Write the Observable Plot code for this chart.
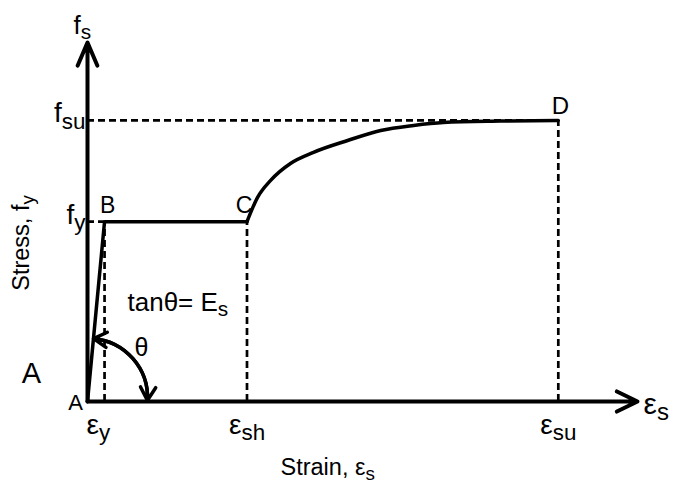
<!DOCTYPE html>
<html><head><meta charset="utf-8">
<script src="https://cdn.jsdelivr.net/npm/d3@7"></script>
<script src="https://cdn.jsdelivr.net/npm/@observablehq/plot@0.6"></script>
<style>body{margin:0;background:#fff} svg{display:block}</style>
</head><body><div id="chart"></div>
<script>
// Key strain values (arbitrary units)
const epsY = 3.1, epsSh = 29, epsSu = 85.6;
// Key stress values (arbitrary units)
const fy = 50.1, fsu = 78.3;
// Axis extents
const axisMaxX = 100, axisMaxY = 100;
// Elastic branch + yield plateau: A -> B -> C
const plateauStrain = [0, epsY, epsSh];
const plateauStress = [0, fy, fy];
// Strain-hardening branch: C -> D
const hardStrain = [29, 30.9, 33.3, 36.9, 41.1, 47.3, 53.3, 59.3, 64.7, 75.1, 85.6];
const hardStress = [50.1, 56.8, 61.6, 66.3, 69.4, 72.7, 75.5, 76.9, 77.7, 78.1, 78.3];
// Theta arc: start (on elastic line), end (on strain axis)
const thetaStrain = [1.1, 10.9];
const thetaStress = [17.5, 0.3];
// Tick labels
const xTickLabels = ["ε_y", "ε_sh", "ε_su"];
const xTickValues = [epsY, epsSh, epsSu];
const yTickLabels = ["f_su", "f_y"];
const yTickValues = [fsu, fy];
// Point labels
const pointLabels = ["A", "B", "C", "D"];
const pointStrain = [0, epsY, epsSh, epsSu];
const pointStress = [0, fy, fy, fsu];
// Axis titles / annotations
const yAxisSymbol = "f_s";
const xAxisSymbol = "ε_s";
const yAxisTitle = "Stress, f_y";
const xAxisTitle = "Strain, ε_s";
const slopeNote = "tanθ= E_s";
const angleNote = "θ";
const bigLabel = "A";

const plateau = plateauStrain.map((x, i) => ({x, y: plateauStress[i]}));
const hard = hardStrain.map((x, i) => ({x, y: hardStress[i]}));
const xt = xTickLabels.map((t, i) => ({t, x: xTickValues[i]}));
const yt = yTickLabels.map((t, i) => ({t, y: yTickValues[i]}));
const pts = pointLabels.map((t, i) => ({t, x: pointStrain[i], y: pointStress[i]}));
const dash = {stroke: "black", strokeWidth: 2.7, strokeDasharray: "7,4"};
const ptLabel = (i, size, dx, dy) => Plot.text([pts[i]], {x: "x", y: "y", text: "t", fontSize: size, lineAnchor: "bottom", textAnchor: "middle", dx, dy, fill: "black"});

const chart = Plot.plot({
  width: 673, height: 486,
  marginLeft: 87, marginRight: 36, marginTop: 42, marginBottom: 85,
  x: {domain: [0, axisMaxX], axis: null},
  y: {domain: [0, axisMaxY], axis: null},
  style: {fontFamily: "'Liberation Sans', Arial, sans-serif", background: "white"},
  marks: [
    // dashed guides
    Plot.ruleY([fsu], {x1: 0, x2: epsSu, ...dash}),
    Plot.ruleX([epsSu], {y1: 0, y2: fsu, ...dash}),
    Plot.ruleX([epsY], {y1: 0, y2: fy, ...dash}),
    Plot.ruleX([epsSh], {y1: 0, y2: fy, ...dash}),
    Plot.ruleY([fy], {x1: 0, x2: epsY, ...dash}),
    // axes with arrowheads
    Plot.arrow([0], {x1: 0, y1: 0, x2: axisMaxX, y2: 0, stroke: "black", strokeWidth: 4, headLength: 8.6, headAngle: 52}),
    Plot.arrow([0], {x1: 0, y1: 0, x2: 0, y2: axisMaxY, stroke: "black", strokeWidth: 4, headLength: 9.4, headAngle: 46}),
    // stress-strain curve
    Plot.line(plateau, {x: "x", y: "y", stroke: "black", strokeWidth: 3.5}),
    Plot.line(hard, {x: "x", y: "y", curve: "monotone-x", stroke: "black", strokeWidth: 3.5}),
    // theta arc (double headed: same arc drawn both ways)
    Plot.arrow([0], {x1: thetaStrain[0], y1: thetaStress[0], x2: thetaStrain[1], y2: thetaStress[1], bend: 44, stroke: "black", strokeWidth: 3.5, headLength: 6.5, headAngle: 60}),
    Plot.arrow([0], {x1: thetaStrain[1], y1: thetaStress[1], x2: thetaStrain[0], y2: thetaStress[0], bend: -44, stroke: "black", strokeWidth: 3.5, headLength: 6.5, headAngle: 60}),
    // tick labels
    Plot.text(xt, {x: "x", y: 0, text: "t", fontSize: 28, textAnchor: "start", lineAnchor: "bottom", dx: -18, dy: 32, fill: "black"}),
    Plot.text(yt, {x: 0, y: "y", text: "t", fontSize: 28, textAnchor: "end", lineAnchor: "bottom", dx: -2, dy: 2, fill: "black"}),
    // point labels
    ptLabel(0, 22, -12, 8), ptLabel(1, 23, 3, -9), ptLabel(2, 23, -3, -9), ptLabel(3, 24, 2, -6),
    // axis symbols and titles
    Plot.text([yAxisSymbol], {frameAnchor: "top-left", text: d => d, fontSize: 26, textAnchor: "start", lineAnchor: "bottom", dx: -14, dy: -9, fill: "black"}),
    Plot.text([xAxisSymbol], {frameAnchor: "bottom-right", text: d => d, fontSize: 30, textAnchor: "start", lineAnchor: "bottom", dx: 6, dy: 12, fill: "black"}),
    Plot.text([yAxisTitle], {frameAnchor: "left", text: d => d, fontSize: 23.5, rotate: -90, textAnchor: "middle", lineAnchor: "bottom", dx: -59, dy: 21, fill: "black"}),
    Plot.text([xAxisTitle], {frameAnchor: "bottom", text: d => d, fontSize: 23.5, textAnchor: "start", lineAnchor: "bottom", dx: -82, dy: 73, fill: "black"}),
    Plot.text([slopeNote], {frameAnchor: "bottom-left", text: d => d, fontSize: 26, textAnchor: "start", lineAnchor: "bottom", dx: 40, dy: -91, fill: "black"}),
    Plot.text([angleNote], {frameAnchor: "bottom-left", text: d => d, fontSize: 25, textAnchor: "middle", lineAnchor: "bottom", dx: 54, dy: -46, fill: "black"}),
    Plot.text([bigLabel], {frameAnchor: "bottom-left", text: d => d, fontSize: 29, textAnchor: "middle", lineAnchor: "bottom", dx: -56, dy: -19, fill: "black"})
  ]
});

// render "_x" as subscripts
chart.querySelectorAll("text").forEach(t => {
  const s = t.textContent;
  const i = s.indexOf("_");
  if (i < 0) return;
  t.textContent = s.slice(0, i);
  const ts = document.createElementNS("http://www.w3.org/2000/svg", "tspan");
  ts.setAttribute("font-size", "0.8em");
  ts.setAttribute("dy", "0.28em");
  ts.textContent = s.slice(i + 1);
  t.appendChild(ts);
});
document.getElementById("chart").appendChild(chart);
</script>
</body></html>
